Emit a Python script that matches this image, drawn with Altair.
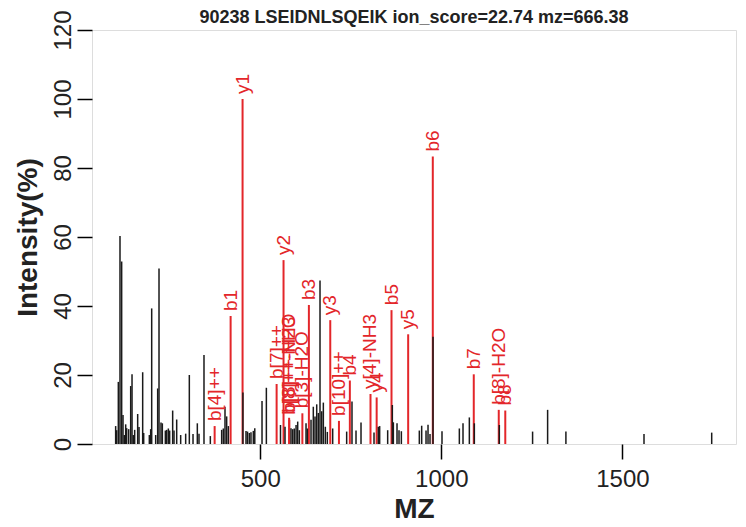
import altair as alt
import pandas as pd

title_text = "90238 LSEIDNLSQEIK ion_score=22.74 mz=666.38"

# unannotated peaks (m/z, relative intensity %)
black_mz = [100.9, 103.7, 108.3, 112.9, 117.5, 121.2, 124.9, 128.6, 131.3, 136.9,
            142.4, 146.1, 149.7, 153.4, 161.7, 165.4, 175.5, 178.3, 193.9, 197.6,
            200.4, 211.4, 216.9, 220.6, 226.1, 229.8, 238.1, 241.8, 246.4, 250.0,
            258.3, 262.0, 269.4, 280.4, 294.2, 304.3, 314.5, 326.4, 331.0, 344.8,
            362.3, 393.6, 398.2, 402.8, 407.4, 412.0,
            452.3, 460.8, 465.0, 470.0, 474.5, 481.0, 485.0, 505.0, 517.0, 556.0,
            568.5, 585.0, 589.7, 594.0, 599.0, 603.5, 608.0, 626.5, 630.0, 640.3,
            646.6, 651.3, 656.0, 660.5, 665.1, 669.8, 674.3, 679.8, 685.3,
            700.1, 738.7, 753.4, 764.5, 778.3, 814.2, 826.1, 829.8, 851.9, 864.8,
            867.6, 877.7, 883.2, 889.7, 939.3, 945.8, 957.8, 963.3, 968.8, 977.1,
            1001.9, 1049.8, 1059.9, 1077.4, 1091.2, 1160.2, 1252.0, 1293.5, 1344.0,
            1559.6, 1746.5]
black_int = [5.2, 4.0, 18.0, 60.3, 52.9, 8.4, 2.6, 5.7, 4.6, 4.3,
             16.8, 20.2, 2.6, 4.1, 8.7, 4.9, 20.8, 3.2, 2.6, 4.3,
             39.3, 2.6, 16.1, 50.9, 6.2, 6.0, 3.9, 4.1, 4.5, 3.9,
             9.7, 3.9, 7.1, 2.6, 3.0, 20.0, 2.9, 6.0, 3.0, 25.8,
             2.3, 4.1, 4.5, 10.8, 8.0, 5.2,
             14.9, 3.8, 3.6, 3.2, 3.4, 3.8, 4.6, 12.5, 16.3, 5.5,
             5.0, 4.6, 4.3, 4.5, 5.5, 6.5, 4.0, 6.0, 4.5, 7.0,
             10.8, 8.0, 11.5, 9.0, 47.4, 9.5, 12.0, 5.0, 3.5,
             4.5, 3.6, 12.3, 3.9, 6.2, 3.3, 5.0, 5.2, 4.0, 11.3,
             6.3, 6.0, 4.0, 3.7, 3.9, 5.3, 3.9, 5.6, 2.9, 31.1,
             3.7, 4.5, 6.0, 7.7, 6.0, 5.5, 3.6, 9.9, 3.6,
             2.9, 3.3]

# annotated fragment ions
ion_labels = ["b[4]++", "b1", "y1", "b[7]++", "y2", "b[8]++-H2O", "b[8]++-NH3",
              "b[3]-H2O", "b3", "y3", "b[10]++", "b4", "y[4]-NH3", "y4", "b5",
              "y5", "b6", "b7", "b[8]-H2O", "b8"]
ion_mz = [374.2, 418.3, 451.3, 545.3, 564.4, 579.8, 580.3,
          616.4, 634.4, 693.4, 717.4, 747.5, 804.5, 821.5, 862.5,
          908.5, 976.5, 1089.6, 1158.6, 1176.6]
ion_int = [5.2, 37.1, 100.0, 17.4, 53.3, 7.6, 7.0,
           8.9, 40.3, 35.9, 6.7, 18.4, 14.5, 13.5, 38.8,
           31.8, 83.3, 20.2, 9.9, 9.7]

RED = "#E3262A"
BLACK = "#1a1a1a"
FONT = "Liberation Sans"
W, H = 644, 414

black_df = pd.DataFrame({"mz": black_mz, "intensity": black_int})
ion_df = pd.DataFrame({"mz": ion_mz, "intensity": ion_int, "label": ion_labels})

x_scale = alt.Scale(domain=[35.6, 1813.6], nice=False, zero=False)
y_scale = alt.Scale(domain=[0, 120], nice=False)

x_axis = alt.Axis(values=[500, 1000, 1500], format="d", title="MZ", grid=False,
                  domain=False,
                  tickSize=15, tickWidth=1.5, tickColor="black",
                  labelFontSize=24, labelFont=FONT, labelColor="#222", labelPadding=8,
                  labelFlush=False,
                  titleFontSize=28, titleFont=FONT, titleFontWeight="bold",
                  titleColor="#222", titlePadding=4)
y_axis = alt.Axis(values=[0, 20, 40, 60, 80, 100, 120], title="Intensity(%)",
                  grid=False, domain=False,
                  tickSize=15, tickWidth=1.5, tickColor="black",
                  labelFontSize=24, labelFont=FONT, labelColor="#222",
                  labelAngle=270, labelAlign="center", labelBaseline="alphabetic",
                  labelPadding=7, labelFlush=False,
                  titleFontSize=28, titleFont=FONT, titleFontWeight="bold",
                  titleColor="#222", titlePadding=9)

red_rules = alt.Chart(ion_df).mark_rule(color=RED, strokeWidth=2).encode(
    x=alt.X("mz:Q", scale=x_scale, axis=x_axis),
    y=alt.Y("intensity:Q", scale=y_scale, axis=y_axis),
    y2=alt.datum(0),
)

black_rules = alt.Chart(black_df).mark_rule(color=BLACK, strokeWidth=1.5).encode(
    x=alt.X("mz:Q", scale=x_scale),
    y=alt.Y("intensity:Q", scale=y_scale),
    y2=alt.datum(0),
)

labels = alt.Chart(ion_df).mark_text(
    angle=270, align="left", baseline="middle", dx=5,
    fontSize=19, font=FONT, color=RED,
).encode(
    x=alt.X("mz:Q", scale=x_scale),
    y=alt.Y("intensity:Q", scale=y_scale),
    text="label:N",
)

title_mark = alt.Chart(pd.DataFrame({"t": [title_text]})).mark_text(
    align="center", baseline="alphabetic", fontSize=18, font=FONT,
    fontWeight="bold", color="#222",
).encode(
    x=alt.value(W / 2), y=alt.value(-7), text="t:N",
)

chart = alt.layer(red_rules, black_rules, labels, title_mark).properties(
    width=W, height=H,
    autosize=alt.AutoSizeParams(type="none"),
    padding={"left": 84, "top": 22, "right": 2, "bottom": 80},
).configure_view(
    stroke="black", strokeWidth=1.5
).configure(background="white")

chart.save("out.html", embed_options={"renderer": "svg", "actions": False})
